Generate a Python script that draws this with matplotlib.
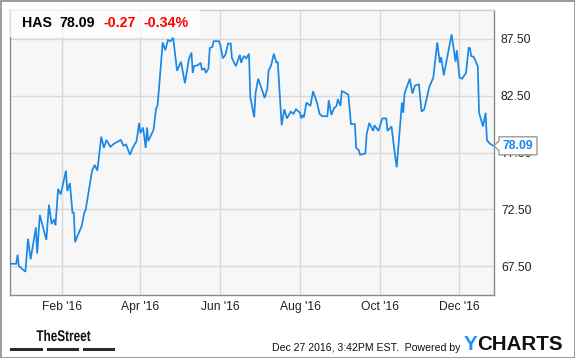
import matplotlib
matplotlib.use("Agg")
import matplotlib.pyplot as plt
import matplotlib.dates as mdates
from matplotlib.patches import Rectangle, Polygon, PathPatch
from matplotlib.textpath import TextPath
from matplotlib.font_manager import FontProperties
from matplotlib.transforms import Affine2D
import pandas as pd
import numpy as np

plt.rcParams['font.family'] = ['Liberation Sans', 'DejaVu Sans']

ticker = "HAS"
last_price = 78.09
change = "-0.27"
change_pct = "-0.34%"
timestamp = "Dec 27 2016, 3:42PM EST.  Powered by"

dates = [
    "2015-12-24", "2015-12-28", "2015-12-29", "2015-12-30", "2016-01-04", "2016-01-06",
    "2016-01-08", "2016-01-12", "2016-01-13", "2016-01-15", "2016-01-20", "2016-01-22",
    "2016-01-24", "2016-01-26", "2016-01-27", "2016-01-29", "2016-01-31", "2016-02-04",
    "2016-02-05", "2016-02-07", "2016-02-09", "2016-02-10", "2016-02-11", "2016-02-13",
    "2016-02-16", "2016-02-18", "2016-02-19", "2016-02-22", "2016-02-24", "2016-02-26",
    "2016-02-28", "2016-03-02", "2016-03-04", "2016-03-06", "2016-03-09", "2016-03-12",
    "2016-03-17", "2016-03-19", "2016-03-21", "2016-03-24", "2016-03-26", "2016-03-29",
    "2016-03-31", "2016-04-01", "2016-04-03", "2016-04-05", "2016-04-06", "2016-04-07",
    "2016-04-11", "2016-04-13", "2016-04-14", "2016-04-15", "2016-04-18", "2016-04-20",
    "2016-04-22", "2016-04-24", "2016-04-26", "2016-04-29", "2016-05-02", "2016-05-05",
    "2016-05-08", "2016-05-10", "2016-05-11", "2016-05-12", "2016-05-15", "2016-05-17",
    "2016-05-18", "2016-05-20", "2016-05-21", "2016-05-23", "2016-05-24", "2016-05-26",
    "2016-05-27", "2016-05-31", "2016-06-01", "2016-06-03", "2016-06-05", "2016-06-07",
    "2016-06-09", "2016-06-10", "2016-06-13", "2016-06-16", "2016-06-17", "2016-06-19",
    "2016-06-21", "2016-06-23", "2016-06-24", "2016-06-27", "2016-06-28", "2016-06-30",
    "2016-07-03", "2016-07-05", "2016-07-07", "2016-07-08", "2016-07-10", "2016-07-12",
    "2016-07-14", "2016-07-15", "2016-07-18", "2016-07-20", "2016-07-22", "2016-07-25",
    "2016-07-27", "2016-07-29", "2016-08-01", "2016-08-02", "2016-08-03", "2016-08-04",
    "2016-08-06", "2016-08-09", "2016-08-11", "2016-08-14", "2016-08-16", "2016-08-18",
    "2016-08-22", "2016-08-23", "2016-08-25", "2016-08-27", "2016-08-29", "2016-08-30",
    "2016-09-01", "2016-09-02", "2016-09-04", "2016-09-07", "2016-09-09", "2016-09-12",
    "2016-09-13", "2016-09-15", "2016-09-16", "2016-09-20", "2016-09-21", "2016-09-23",
    "2016-09-26", "2016-09-27", "2016-09-30", "2016-10-03", "2016-10-06", "2016-10-07",
    "2016-10-10", "2016-10-12", "2016-10-14", "2016-10-18", "2016-10-19", "2016-10-20",
    "2016-10-24", "2016-10-26", "2016-10-28", "2016-10-31", "2016-11-02", "2016-11-04",
    "2016-11-08", "2016-11-11", "2016-11-14", "2016-11-16", "2016-11-17", "2016-11-19",
    "2016-11-25", "2016-11-28", "2016-11-29", "2016-12-01", "2016-12-03", "2016-12-06",
    "2016-12-08", "2016-12-09", "2016-12-10", "2016-12-12", "2016-12-15", "2016-12-16",
    "2016-12-19", "2016-12-21", "2016-12-22", "2016-12-24", "2016-12-27",
]
prices = [
    67.7, 67.7, 68.5, 67.5, 67.0, 69.9,
    68.1, 70.9, 68.6, 72.0, 69.8, 72.9,
    71.2, 71.6, 71.1, 74.3, 73.8, 75.9,
    74.1, 74.8, 72.2, 72.2, 69.6, 70.2,
    71.0, 72.2, 72.4, 74.5, 75.9, 76.4,
    75.9, 78.9, 77.9, 78.6, 78.0, 78.3,
    78.6, 78.1, 78.2, 77.3, 77.9, 78.5,
    80.1, 79.2, 79.7, 77.9, 79.7, 78.5,
    79.5, 81.4, 81.6, 82.9, 87.2, 86.5,
    87.4, 87.3, 87.6, 84.7, 85.5, 83.6,
    85.7, 86.3, 84.5, 85.1, 85.2, 85.4,
    84.8, 84.9, 84.5, 84.9, 86.7, 86.8,
    87.3, 87.3, 87.0, 85.8, 86.1, 87.1,
    87.1, 85.8, 85.1, 86.1, 85.4, 86.0,
    85.8, 86.2, 82.4, 80.6, 82.7, 84.0,
    83.0, 82.3, 83.1, 84.7, 85.2, 86.2,
    85.4, 85.5, 79.9, 81.3, 80.5, 81.1,
    80.9, 81.3, 81.0, 80.5, 80.8, 80.6,
    81.9, 81.6, 82.9, 81.9, 80.9, 80.7,
    80.7, 82.1, 80.8, 81.4, 81.6, 82.2,
    81.6, 82.9, 82.8, 82.6, 80.0, 80.0,
    77.9, 77.7, 77.3, 77.4, 79.1, 80.1,
    79.4, 79.9, 79.4, 80.5, 80.5, 79.4,
    79.8, 77.9, 76.2, 81.9, 81.0, 82.7,
    84.0, 82.7, 83.4, 83.5, 81.1, 81.3,
    83.3, 84.1, 87.2, 85.4, 85.9, 84.3,
    87.9, 85.5, 86.5, 84.1, 84.0, 84.5,
    86.7, 86.7, 86.0, 85.9, 85.1, 81.0,
    79.8, 81.0, 78.6, 78.3, 78.09,
]
x_tick_dates = ["2016-02-01", "2016-04-01", "2016-06-01", "2016-08-01", "2016-10-01", "2016-12-01"]
x_tick_labels = ["Feb '16", "Apr '16", "Jun '16", "Aug '16", "Oct '16", "Dec '16"]
y_ticks = [67.5, 72.5, 77.5, 82.5, 87.5]

W, H = 575, 358
fig = plt.figure(figsize=(W / 100, H / 100), dpi=100)
fig.patch.set_facecolor('white')

def fx(x):
    return x / W

def fy(y):
    return 1 - y / H

ax = fig.add_axes([fx(10), fy(295), (494 - 10) / W, (295 - 10) / H])
ax.set_facecolor('#f7f7f7')

d = pd.to_datetime(dates)
ax.plot(d, prices, color='#1a88e6', lw=1.25, solid_joinstyle='miter', zorder=3)

ax.set_xlim(pd.Timestamp("2015-12-23 05:00"), pd.Timestamp("2016-12-27 10:00"))
ax.set_ylim(64.95, 90.05)

ax.set_xticks(pd.to_datetime(x_tick_dates))
ax.set_xticklabels(x_tick_labels)
ax.set_yticks(y_ticks)
ax.set_yticklabels([f"{v:.2f}" for v in y_ticks])
ax.yaxis.tick_right()
ax.tick_params(axis='both', length=0, labelsize=8.7, colors='#222222')
ax.tick_params(axis='y', pad=5)
ax.tick_params(axis='x', pad=4)
ax.grid(True, color='#d8d8d8', lw=1)
ax.set_axisbelow(True)
for s in ax.spines.values():
    s.set_color('#8a8a8a')
    s.set_linewidth(1)
ax.spines['top'].set_color('#cccccc')

# header box
fig.add_artist(Rectangle((fx(10), fy(37)), (200 - 10) / W, 27 / H, transform=fig.transFigure,
                         facecolor='white', alpha=0.75, edgecolor='none', zorder=5))
fig.text(fx(22), fy(23), ticker, fontsize=10.2, fontweight='bold', color='black', va='center', zorder=6)
fig.text(fx(59), fy(23), f"{last_price:.2f}", fontsize=10.2, fontweight='bold', color='black', va='center', zorder=6)
fig.text(fx(104), fy(23), change, fontsize=10.2, fontweight='bold', color='#ff0000', va='center', zorder=6)
fig.text(fx(144), fy(23), change_pct, fontsize=10.2, fontweight='bold', color='#ff0000', va='center', zorder=6)

# last price marker
fig.canvas.draw()
renderer = fig.canvas.get_renderer()
px, py = ax.transData.transform((mdates.date2num(pd.Timestamp(dates[-1])), last_price))
px = ax.transAxes.transform((1, 0))[0]
h = 9
verts = [(px, py), (px + 5, py + 5), (px + 5, py + h), (px + 43, py + h),
         (px + 43, py - h), (px + 5, py - h), (px + 5, py - 5)]
verts_fig = fig.transFigure.inverted().transform(verts)
fig.add_artist(Polygon(verts_fig, closed=True, transform=fig.transFigure, facecolor='white',
                       edgecolor='#999999', lw=1, zorder=7))
fig.text((px + 24) / W, py / H, f"{last_price:.2f}", fontsize=8.8, fontweight='bold',
         color='#1a88e6', ha='center', va='center', zorder=8)

# footer: TheStreet logo (condensed bold text)
tp = TextPath((0, 0), "TheStreet", size=15.5, prop=FontProperties(family='Liberation Sans', weight='bold'))
ext = tp.get_extents()
tr = (Affine2D().translate(-ext.x0, 0).scale(54.0 / ext.width, 1.0)
      .translate(36.5, H - 341.0).scale(1.0 / W, 1.0 / H) + fig.transFigure)
fig.add_artist(PathPatch(tp, transform=tr, facecolor='#111111', edgecolor='none'))
for x0, x1 in [(10, 42.7), (46.7, 79.3), (83.3, 115)]:
    fig.add_artist(Rectangle((fx(x0), fy(351)), (x1 - x0) / W, 3.2 / H, transform=fig.transFigure,
                             facecolor='#2a2a2a', edgecolor='none'))
fig.text(fx(460), fy(348), timestamp, fontsize=7.6, color='#111111', ha='right', va='center')
ty = fig.text(fx(464), fy(345), "Y", fontsize=14.8, fontweight='bold', color='#1e90ff', ha='left', va='center')
bb = ty.get_window_extent(renderer)
fig.text(bb.x1 / W, fy(345), "CHARTS", fontsize=14.8, fontweight='bold', color='#111111', ha='left', va='center')

# outer border
fig.add_artist(Rectangle((0.5 / W, 0.5 / H), (W - 1) / W, (H - 1) / H, transform=fig.transFigure,
                         facecolor='none', edgecolor='#8a8a8a', lw=1.2))

fig.savefig("out.png", dpi=100, facecolor='white')
